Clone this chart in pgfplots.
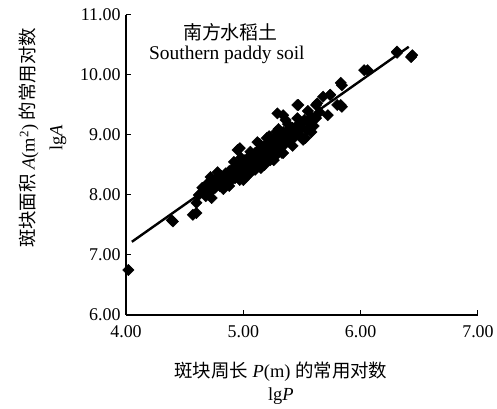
\documentclass[border=0pt]{standalone}
\usepackage{fontspec}
\setmainfont{Liberation Serif}
\newfontfamily\cjk{Noto Sans CJK SC}
\usepackage{pgfplots}
\pgfplotsset{compat=1.18}
\begin{document}
\begin{tikzpicture}
\begin{axis}[
  scale only axis, width=352bp, height=300bp,
  xmin=4, xmax=7, ymin=6, ymax=11,
  axis x line=bottom, axis y line=left,
  axis line style={-, line width=1.2bp},
  tick align=inside, major tick length=5bp,
  tick style={line width=1bp, black},
  xtick={4,5,6,7}, ytick={6,7,8,9,10,11},
  /pgf/number format/.cd, fixed, zerofill, precision=2, assume math mode=true,
  /pgfplots/.cd,
  ticklabel style={font=\fontsize{18}{20}\selectfont},
  xticklabel style={yshift=-7bp},
  yticklabel style={xshift=-2bp},
  clip=false,
  xlabel={{\cjk 斑块周长} \textit{P}(m) {\cjk 的常用对数}\\[2bp]lg\textit{P}},
  xlabel style={at={(rel axis cs:0.44,0)}, anchor=north, yshift=-43bp, align=center, font=\fontsize{18.5}{22}\selectfont},
  ylabel={{\cjk 斑块面积} \textit{A}(m\textsuperscript{2}) {\cjk 的常用对数}\\[6bp]lg\textit{A}},
  ylabel style={at={(rel axis cs:0,0.59)}, anchor=south, yshift=56bp, align=center, font=\fontsize{18.5}{22}\selectfont},
]
\addplot[only marks, mark=square*, mark size=4bp, mark options={rotate=45, fill=black, draw=black}] coordinates {
(6.44,10.33) (6.31,10.39) (6.06,10.08) (5.84,9.83) (5.74,9.67) (5.84,9.47)
(5.72,9.33) (5.62,9.50) (5.47,9.50) (5.34,9.33) (5.36,9.25) (5.53,8.95)
(5.33,8.70) (4.97,8.78) (5.00,8.25) (4.72,8.30) (4.65,8.12) (4.73,7.95)
(4.60,7.70) (4.39,7.58) (4.02,6.75) (6.03,10.08) (5.83,9.87) (6.31,10.37)
(6.43,10.30) (5.68,9.64) (5.80,9.50) (4.40,7.56) (4.57,7.67) (4.60,7.87)
(4.97,8.25) (5.23,8.58) (5.51,8.92) (5.29,9.36) (5.46,9.50) (4.95,8.75)
(5.63,9.53) (5.83,9.50) (5.74,9.67)
(4.62,8.00) (4.66,8.05) (4.68,7.98)
(4.70,8.20) (4.72,8.05) (4.74,8.18) (4.76,8.12) (4.77,8.28) (4.78,8.20)
(4.80,8.15) (4.81,8.32) (4.82,8.24) (4.84,8.18) (4.85,8.36) (4.86,8.28)
(4.87,8.22) (4.88,8.40) (4.89,8.30) (4.90,8.25) (4.91,8.44) (4.92,8.35)
(4.93,8.28) (4.94,8.48) (4.95,8.38) (4.96,8.32) (4.97,8.52) (4.98,8.42)
(4.99,8.36) (5.00,8.46) (5.01,8.58) (5.02,8.40) (5.03,8.50) (5.04,8.62)
(5.05,8.45) (5.06,8.55) (5.07,8.66) (5.08,8.48) (5.09,8.60) (5.10,8.70)
(5.11,8.52) (5.12,8.64) (5.13,8.75) (5.14,8.58) (5.15,8.68) (5.16,8.80)
(5.17,8.60) (5.18,8.72) (5.19,8.84) (5.20,8.65) (5.21,8.76) (5.22,8.88)
(5.23,8.70) (5.24,8.80) (5.25,8.92) (5.26,8.74) (5.27,8.85) (5.28,8.96)
(5.29,8.68) (5.30,8.88) (5.31,9.00) (5.32,8.80) (5.33,8.92) (5.34,9.05)
(5.35,8.84) (5.36,8.96) (5.38,9.08) (5.39,8.90) (5.40,9.00) (5.42,9.12)
(5.43,8.95) (5.45,9.05) (5.47,9.18) (5.48,9.00) (5.50,9.12) (5.52,9.25)
(5.54,9.08) (5.56,9.20) (5.58,9.30) (5.60,9.15) (5.62,9.28) (5.65,9.38)
(4.78,8.38) (4.83,8.10) (4.88,8.15) (4.92,8.55) (4.98,8.62) (5.02,8.30)
(5.06,8.72) (5.10,8.42) (5.14,8.85) (5.18,8.50) (5.22,8.98) (5.26,8.58)
(5.30,9.10) (5.34,8.70) (5.38,9.18) (5.42,8.82) (5.46,9.28) (5.50,8.95)
(5.55,9.40) (5.58,9.05) (5.05,8.35) (5.15,8.45) (5.25,8.62) (5.20,8.95)
(5.28,9.05) (5.12,8.88)
};
\addplot[black, line width=2.4bp] coordinates {(4.05,7.22) (6.41,10.47)};
\node[font=\fontsize{19}{20}\selectfont\cjk] at (axis cs:4.89,10.72) {南方水稻土};
\node[font=\fontsize{19.5}{20}\selectfont] at (axis cs:4.86,10.33) {Southern paddy soil};
\end{axis}
\path (current axis.south west) ++(-126bp,-89bp) rectangle ++(497bp,404bp);
\end{tikzpicture}
\end{document}
